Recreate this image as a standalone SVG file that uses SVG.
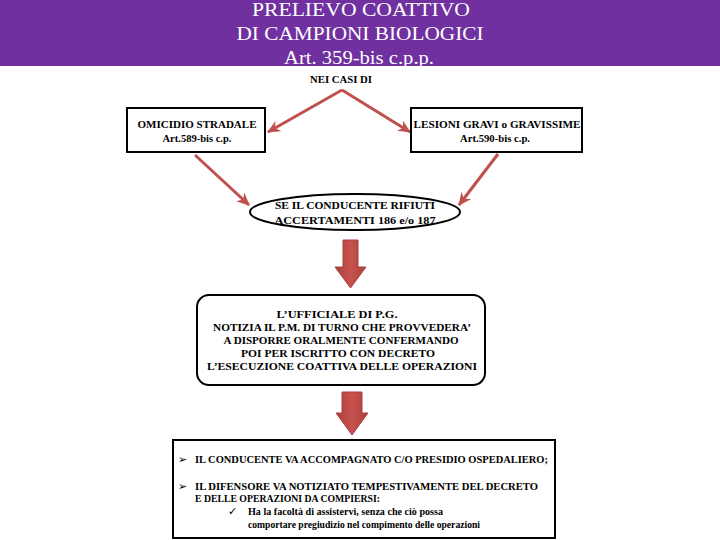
<svg xmlns="http://www.w3.org/2000/svg" width="720" height="540" viewBox="0 0 720 540">
<style>
.title{font-family:"Liberation Serif","Times New Roman",serif;font-size:18px;fill:#ffffff;text-anchor:middle}
.t{font-family:"Liberation Serif","Times New Roman",serif;font-size:10px;font-weight:bold;fill:#000000}
.c{text-anchor:middle}
.box{fill:#ffffff;stroke:#000000;stroke-width:2}
.conn{fill:none;stroke:#C0504D;stroke-width:3}
.block{stroke:#A8403D;stroke-width:1}
.sym{font-family:"DejaVu Sans",sans-serif;font-size:11px;fill:#000000}
</style>
<defs>
<marker id="ah" markerUnits="userSpaceOnUse" markerWidth="14" markerHeight="12" refX="12" refY="6" orient="auto">
<path d="M0,0 L13,6 L0,12 L4,6 z" fill="#C0504D"/>
</marker>
<linearGradient id="bg" x1="0" y1="0" x2="1" y2="0">
<stop offset="0" stop-color="#A8403D"/>
<stop offset="0.5" stop-color="#C9524F"/>
<stop offset="1" stop-color="#A8403D"/>
</linearGradient>
</defs>
<rect x="0" y="0" width="720" height="66" fill="#7030A0"/>
<g id="title">
<text class="title" x="361" y="16" textLength="218" lengthAdjust="spacingAndGlyphs">PRELIEVO COATTIVO</text>
<text class="title" x="360" y="40" textLength="247" lengthAdjust="spacingAndGlyphs">DI CAMPIONI BIOLOGICI</text>
<text class="title" x="359" y="64" textLength="150" lengthAdjust="spacingAndGlyphs">Art. 359-bis c.p.p.</text>
</g>
<g id="nei-casi">
<text class="t c" x="341" y="83" textLength="62" lengthAdjust="spacingAndGlyphs">NEI CASI DI</text>
</g>
<g id="connectors">
<path class="conn" d="M342,90 L268,132" marker-end="url(#ah)"/>
<path class="conn" d="M342,90 L410,132" marker-end="url(#ah)"/>
<path class="conn" d="M195,155 L249,205" marker-end="url(#ah)"/>
<path class="conn" d="M498,154 L459,205" marker-end="url(#ah)"/>
<path class="block" fill="url(#bg)" d="M343,240 L358,240 L358,267 L366,267 L350.5,288 L335,267 L343,267 z"/>
<path class="block" fill="url(#bg)" d="M342,392 L362,392 L362,413 L368,413 L352,435 L336,413 L342,413 z"/>
</g>
<g id="omicidio">
<rect class="box" x="127" y="108" width="138" height="44"/>
<text class="t c" x="197" y="128" textLength="119" lengthAdjust="spacingAndGlyphs">OMICIDIO STRADALE</text>
<text class="t c" x="197" y="142" textLength="69" lengthAdjust="spacingAndGlyphs">Art.589-bis c.p.</text>
</g>
<g id="lesioni">
<rect class="box" x="411" y="108" width="171" height="44"/>
<text class="t c" x="497" y="128" textLength="167" lengthAdjust="spacingAndGlyphs">LESIONI GRAVI o GRAVISSIME</text>
<text class="t c" x="495" y="142" textLength="70" lengthAdjust="spacingAndGlyphs">Art.590-bis c.p.</text>
</g>
<g id="rifiuto">
<ellipse class="box" cx="355" cy="212" rx="105" ry="18"/>
<text class="t c" x="355" y="209" textLength="160" lengthAdjust="spacingAndGlyphs">SE IL CONDUCENTE RIFIUTI</text>
<text class="t c" x="355" y="224" textLength="161" lengthAdjust="spacingAndGlyphs">ACCERTAMENTI 186 e/o 187</text>
</g>
<g id="ufficiale">
<rect class="box" x="197" y="295" width="288" height="90" rx="12" ry="12"/>
<text class="t c" x="337" y="318" textLength="121" lengthAdjust="spacingAndGlyphs">L’UFFICIALE DI P.G.</text>
<text class="t c" x="342" y="331" textLength="258" lengthAdjust="spacingAndGlyphs">NOTIZIA IL P.M. DI TURNO CHE PROVVEDERA’</text>
<text class="t c" x="341" y="344" textLength="235" lengthAdjust="spacingAndGlyphs">A DISPORRE ORALMENTE CONFERMANDO</text>
<text class="t c" x="338" y="357" textLength="194" lengthAdjust="spacingAndGlyphs">POI PER ISCRITTO CON DECRETO</text>
<text class="t c" x="342" y="370" textLength="270" lengthAdjust="spacingAndGlyphs">L’ESECUZIONE COATTIVA DELLE OPERAZIONI</text>
</g>
<g id="esecuzione">
<rect class="box" x="173" y="440" width="382" height="98"/>
<text class="sym" x="178" y="463">➢</text>
<text class="t" x="195" y="463" textLength="353" lengthAdjust="spacingAndGlyphs">IL CONDUCENTE VA ACCOMPAGNATO C/O PRESIDIO OSPEDALIERO;</text>
<text class="sym" x="178" y="490">➢</text>
<text class="t" x="195" y="490" textLength="343" lengthAdjust="spacingAndGlyphs">IL DIFENSORE VA NOTIZIATO TEMPESTIVAMENTE  DEL DECRETO</text>
<text class="t" x="195" y="502" textLength="185" lengthAdjust="spacingAndGlyphs">E DELLE OPERAZIONI DA COMPIERSI:</text>
<text class="sym" x="228" y="515">✓</text>
<text class="t" x="248" y="515" textLength="195" lengthAdjust="spacingAndGlyphs">Ha la facoltà di assistervi, senza che ciò possa</text>
<text class="t" x="248" y="528" textLength="232" lengthAdjust="spacingAndGlyphs">comportare pregiudizio nel compimento delle operazioni</text>
</g>
</svg>
